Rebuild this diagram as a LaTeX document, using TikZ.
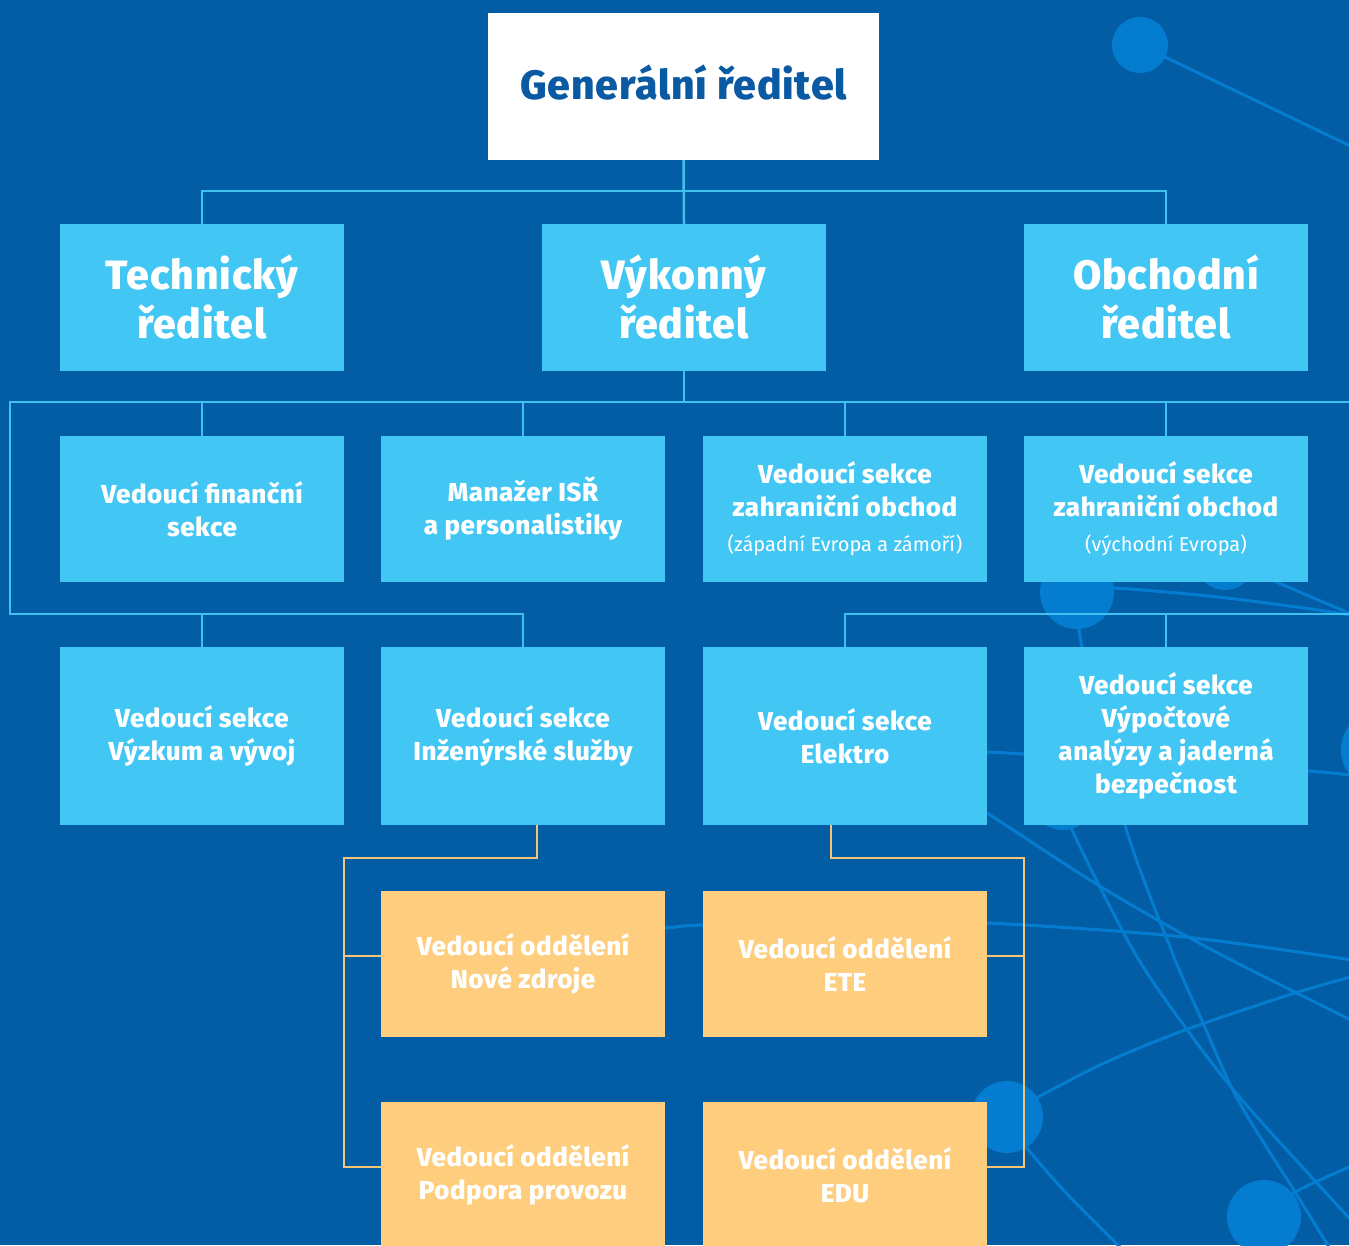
\documentclass[tikz,border=0pt]{standalone}
\usepackage{fontspec}
\IfFontExistsTF{Fira Sans ExtraBold}
  {\setmainfont{Fira Sans}[BoldFont={Fira Sans ExtraBold},BoldFeatures={LetterSpace=2}]}
  {\setmainfont{Fira Sans}[BoldFeatures={LetterSpace=2}]}
\definecolor{bg}{HTML}{035DA5}
\definecolor{deco}{HTML}{047CCF}
\definecolor{lb}{HTML}{42C6F4}
\definecolor{lbline}{HTML}{3FC0EF}
\definecolor{org}{HTML}{FECD7D}
\definecolor{orgline}{HTML}{F5C577}
\definecolor{titleblue}{HTML}{0A5AA3}
\newcommand{\subfont}{\mdseries\fontsize{20}{24}\selectfont}
\begin{document}
\begin{tikzpicture}[x=1pt,y=-1pt,
  box/.style={rectangle, fill=lb, text=white, minimum width=284pt, minimum height=146pt,
    inner sep=0pt, align=center, font=\bfseries\fontsize{26}{33}\selectfont},
  tallbox/.style={box, minimum height=178pt},
  obox/.style={box, fill=org},
  tbox/.style={box, minimum height=147pt, font=\bfseries\fontsize{41}{49}\selectfont},
  gbox/.style={rectangle, fill=white, text=titleblue, minimum width=391pt, minimum height=147pt,
    inner sep=0pt, text depth=9pt, font=\bfseries\fontsize{41}{49}\selectfont},
  conn/.style={draw=lbline, line width=2.5pt},
  oconn/.style={draw=orgline, line width=2pt},
  decoline/.style={draw=deco, line width=3pt},
  decodot/.style={fill=deco}]
\path[use as bounding box] (0,0) rectangle (1349,1245);
\fill[bg] (0,0) rectangle (1349,1245);
% background decoration
\begin{scope}
\clip (0,0) rectangle (1349,1245);
\draw[decoline] (1140,45) -- (1365,153);
\draw[decoline] plot[smooth] coordinates {(1063,797) (1072,830) (1133,950) (1185,1027) (1242,1100) (1349,1218) (1365,1235)};
\draw[decoline] plot[smooth] coordinates {(1077,592) (1082,647) (1125,825) (1172,952) (1203,1023) (1238,1100) (1295,1192) (1334,1255)};
\draw[decoline] plot[smooth] coordinates {(900,760) (987,813) (1098,885) (1212,950) (1365,1027)};
\draw[decoline] plot[smooth] coordinates {(560,936) (665,928) (703,925) (850,922) (987,923) (1185,937) (1365,962)};
\draw[decoline] plot[smooth] coordinates {(1010,1112) (1100,1065) (1185,1030) (1295,993) (1365,973)};
\draw[decoline] plot[smooth] coordinates {(1007,1117) (1027,1148) (1068,1195) (1125,1252)};
\draw[decoline] plot[smooth] coordinates {(1264,1217) (1295,1192) (1365,1160)};
\draw[decoline] plot[smooth] coordinates {(1077,592) (1113,588) (1218,597) (1318,610) (1365,618)};
\draw[decoline] (1225,560) -- (1365,620);
\draw[decoline] plot[smooth] coordinates {(880,748) (987,752) (1024,754) (1308,771) (1365,778)};
\fill[decodot] (1140,45) circle[radius=28pt];
\fill[decodot] (1077,592) circle[radius=37pt];
\fill[decodot] (1063,797) circle[radius=33pt];
\fill[decodot] (1007,1117) circle[radius=36pt];
\fill[decodot] (1381,750) circle[radius=40pt];
\fill[decodot] (1264,1217) circle[radius=37pt];
\fill[decodot] (1225,560) circle[radius=30pt];
\end{scope}
% nodes
\node[gbox] (gr) at (683.5,86.5) {Generální ředitel};
\node[tbox] (tech) at (202,297.5) {Technický\\ředitel};
\node[tbox] (vyk) at (684,297.5) {Výkonný\\ředitel};
\node[tbox] (obch) at (1166,297.5) {Obchodní\\ředitel};
\node[box] (fin) at (202,509) {Vedoucí finanční\\sekce};
\node[box] (isr) at (523,509) {Manažer ISŘ\\a personalistiky};
\node[box] (zapo) at (845,509) {Vedoucí sekce\\zahraniční obchod\\[2pt]{\subfont (západní Evropa a zámoří)}};
\node[box] (vych) at (1166,509) {Vedoucí sekce\\zahraniční obchod\\[2pt]{\subfont (východní Evropa)}};
\node[tallbox] (vyv) at (202,736) {Vedoucí sekce\\Výzkum a vývoj};
\node[tallbox] (inz) at (523,736) {Vedoucí sekce\\Inženýrské služby};
\node[tallbox] (elek) at (845,736) {Vedoucí sekce\\Elektro};
\node[tallbox] (vyp) at (1166,736) {Vedoucí sekce\\Výpočtové\\analýzy a jaderná\\bezpečnost};
\node[obox] (nz) at (523,964) {Vedoucí oddělení\\Nové zdroje};
\node[obox] (ete) at (845,964) {Vedoucí oddělení\\ETE};
\node[obox] (pp) at (523,1175) {Vedoucí oddělení\\Podpora provozu};
\node[obox] (edu) at (845,1175) {Vedoucí oddělení\\EDU};
% connectors
\coordinate (b1) at (683,191);
\coordinate (L1) at (10,402);
\coordinate (L2) at (10,614);
\coordinate (R1) at (1360,402);
\coordinate (R2) at (1360,614);
\draw[conn] (gr.south) -- (vyk.north);
\draw[conn] (tech.north) |- (b1) -| (obch.north);
\draw[conn] (vyk.south) -- (vyk.south |- L1);
\draw[conn] (R1) -- (L1) -- (L2) -| (inz.north);
\draw[conn] (fin.north) -- (fin.north |- L1);
\draw[conn] (isr.north) -- (isr.north |- L1);
\draw[conn] (zapo.north) -- (zapo.north |- L1);
\draw[conn] (vych.north) -- (vych.north |- L1);
\draw[conn] (vyv.north) -- (vyv.north |- L2);
\draw[conn] (R2) -| (elek.north);
\draw[conn] (vyp.north) -- (vyp.north |- R2);
% orange connectors
\coordinate (ol) at (344,858);
\coordinate (olm) at (344,956);
\coordinate (olb) at (344,1167);
\coordinate (or) at (1024,858);
\coordinate (orm) at (1024,956);
\coordinate (orb) at (1024,1167);
\draw[oconn] ([xshift=14pt]inz.south) |- (ol) -- (olb) -- ([yshift=8pt]pp.west);
\draw[oconn] (olm) -- ([yshift=8pt]nz.west);
\draw[oconn] ([xshift=-14pt]elek.south) |- (or) -- (orb) -- ([yshift=8pt]edu.east);
\draw[oconn] (orm) -- ([yshift=8pt]ete.east);
\end{tikzpicture}
\end{document}
